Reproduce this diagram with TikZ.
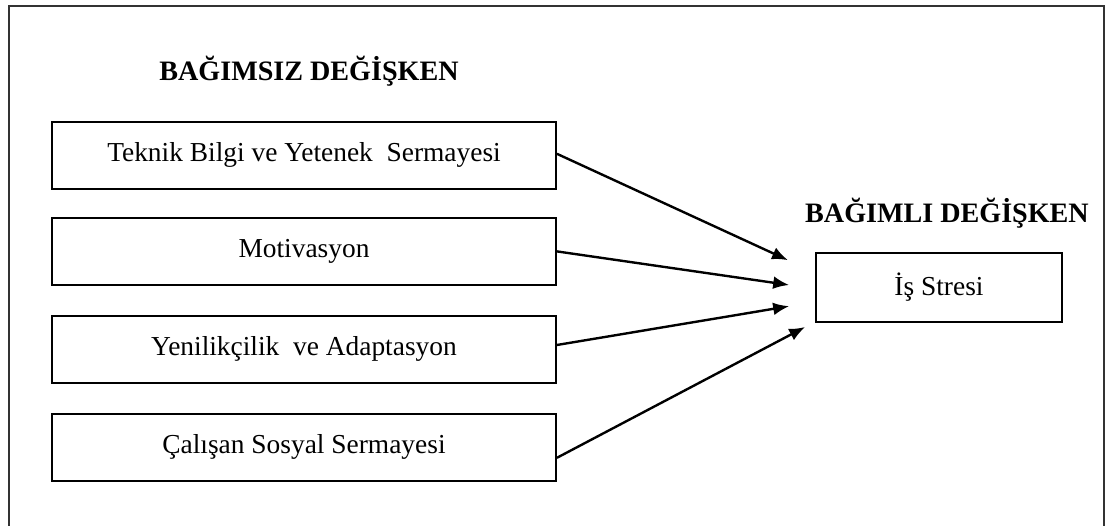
\documentclass[tikz,border=0pt]{standalone}
\usepackage{fontspec}
\usetikzlibrary{arrows.meta}
\setmainfont{Liberation Serif}
\begin{document}
\begin{tikzpicture}[>={Latex[length=4mm,width=3.2mm]},line width=1.7pt]
  \tikzstyle{var}=[draw,rectangle,line width=1.3pt,minimum width=12.6cm,minimum height=1.68cm,font=\fontsize{19.5}{24}\selectfont]
  \tikzstyle{head}=[font=\fontsize{20}{24}\selectfont\bfseries]
  \def\bx{7.6}	% center x of left boxes
  \useasboundingbox (0,0) rectangle (27.625,13.125);
  \draw[line width=1.9pt,black!80] (0.225,-0.5) -- (0.225,12.975) -- (27.6,12.975) -- (27.6,-0.5);
  \node[head] (indep) at (7.725,11.35) {BAĞIMSIZ DEĞİŞKEN};
  \node[head] (dep) at (23.675,7.8) {BAĞIMLI DEĞİŞKEN};
  \node[var] (b1) at (\bx,9.24) {Teknik Bilgi ve Yetenek\ \ Sermayesi};
  \node[var] (b2) at (\bx,6.84) {Motivasyon};
  \node[var] (b3) at (\bx,4.39) {Yenilikçilik\ \ ve Adaptasyon};
  \node[var] (b4) at (\bx,1.94) {Çalışan Sosyal Sermayesi};
  \node[var,minimum width=6.15cm,minimum height=1.72cm] (stres) at (23.475,5.94) {İş Stresi};
  \coordinate (t1) at (19.7,6.62);
  \coordinate (t2) at (19.73,6.0);
  \coordinate (t3) at (19.73,5.47);
  \coordinate (t4) at (20.13,4.95);
  \draw[->] ([yshift=0.04cm]b1.east) -- (t1);
  \draw[->] (b2.east) -- (t2);
  \draw[->] ([yshift=0.11cm]b3.east) -- (t3);
  \draw[->] ([yshift=-0.26cm]b4.east) -- (t4);
\end{tikzpicture}
\end{document}
